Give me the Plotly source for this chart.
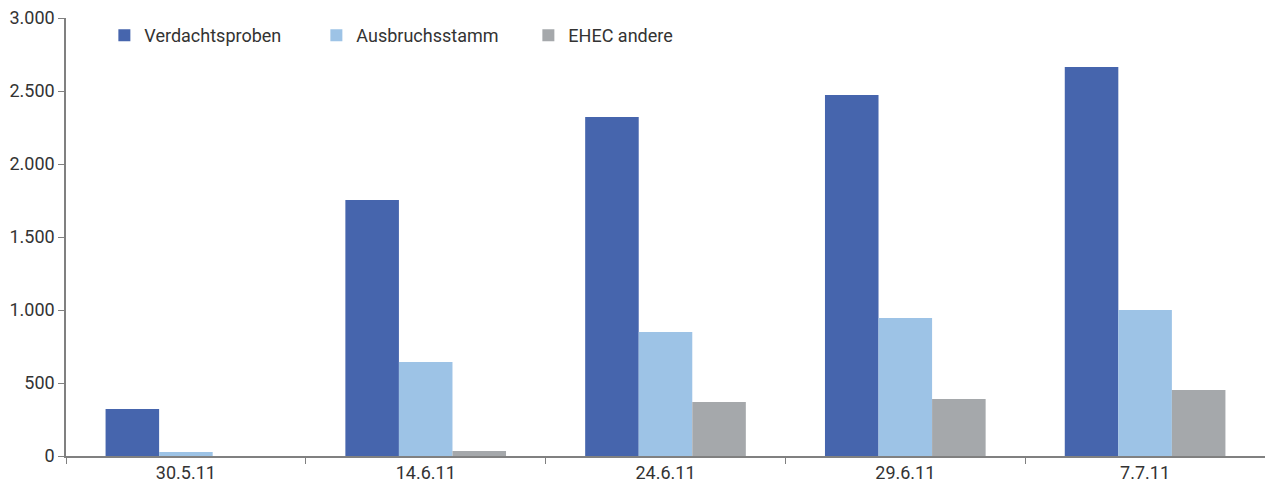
import plotly.graph_objects as go

categories = ["30.5.11", "14.6.11", "24.6.11", "29.6.11", "7.7.11"]
verdachtsproben = [322, 1753, 2322, 2473, 2664]
ausbruchsstamm = [27, 644, 849, 945, 1000]
ehec_andere = [0, 34, 370, 390, 452]

series = [
    ("Verdachtsproben", verdachtsproben, "#4665AD"),
    ("Ausbruchsstamm", ausbruchsstamm, "#9DC3E6"),
    ("EHEC andere", ehec_andere, "#A5A8AB"),
]

fig = go.Figure()
for name, vals, col in series:
    fig.add_trace(go.Bar(x=categories, y=vals, name=name, marker=dict(color=col, line=dict(width=0))))

font_family = "Roboto, sans-serif"
fig.update_layout(
    width=1265, height=493,
    margin=dict(l=66, r=0, t=18, b=37),
    barmode="group", bargap=0.33, bargroupgap=0,
    plot_bgcolor="white", paper_bgcolor="white",
    separators=",.",
    font=dict(family=font_family, size=18, color="#333333"),
    legend=dict(orientation="h", x=0.032, y=0.96, xanchor="left", yanchor="middle",
                font=dict(size=18), bgcolor="rgba(0,0,0,0)",
                traceorder="normal", entrywidth=167),
    showlegend=True,
)
fig.update_xaxes(showline=True, linecolor="#808080", linewidth=1.5, ticks="outside",
                 tickson="boundaries", ticklen=6, tickcolor="#808080", showgrid=False,
                 automargin=False)
fig.update_yaxes(range=[0, 3000], dtick=500, tickformat=",d", showline=True, linecolor="#808080",
                 linewidth=1.5, ticks="outside", ticklen=6, tickcolor="#808080", showgrid=False,
                 zeroline=False, automargin=False)
fig.write_html("out.html", config={"displayModeBar": False},
               post_script="document.body.style.margin='0';document.body.style.overflow='hidden';")
